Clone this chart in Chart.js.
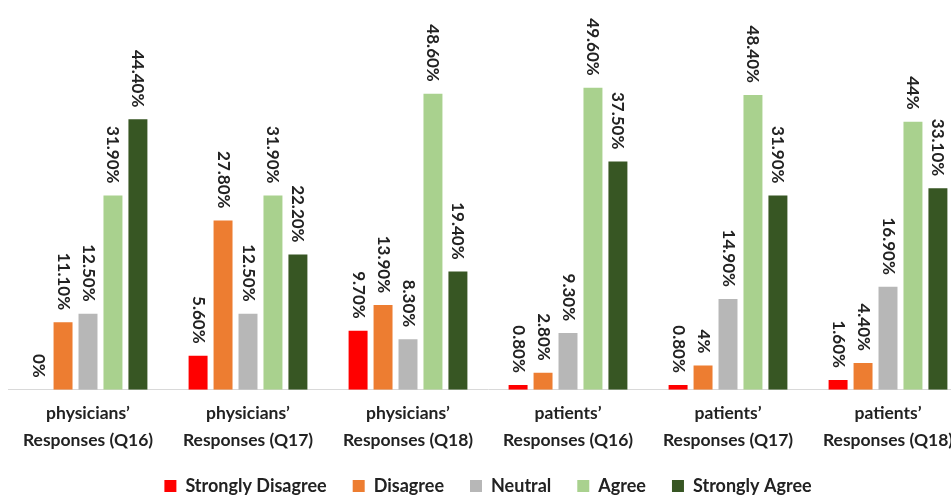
<!DOCTYPE html>
<html>
<head>
<meta charset="utf-8">
<script src="https://cdn.jsdelivr.net/npm/chart.js@4.4.0/dist/chart.umd.min.js"></script>
<style>
html,body{margin:0;padding:0;background:#fff;overflow:hidden;}
#wrap{width:984px;height:497px;}
</style>
</head>
<body>
<div id="wrap"><canvas id="c"></canvas></div>
<script>
const categories = [
  ["physicians’", "Responses (Q16)"],
  ["physicians’", "Responses (Q17)"],
  ["physicians’", "Responses (Q18)"],
  ["patients’", "Responses (Q16)"],
  ["patients’", "Responses (Q17)"],
  ["patients’", "Responses (Q18)"]
];
const seriesNames = ["Strongly Disagree", "Disagree", "Neutral", "Agree", "Strongly Agree"];
const stronglyDisagree = [0, 5.6, 9.7, 0.8, 0.8, 1.6];
const disagree = [11.1, 27.8, 13.9, 2.8, 4, 4.4];
const neutral = [12.5, 12.5, 8.3, 9.3, 14.9, 16.9];
const agree = [31.9, 31.9, 48.6, 49.6, 48.4, 44];
const stronglyAgree = [44.4, 22.2, 19.4, 37.5, 31.9, 33.1];
const colors = ["#FF0000", "#ED7D31", "#B7B7B7", "#A9D18E", "#375623"];

const FONT = "Lato, 'Open Sans', sans-serif";
function fmt(v){ return (Number.isInteger(v) ? v.toString() : v.toFixed(2)) + "%"; }

const labelPlugin = {
  id: 'vlabels',
  afterDatasetsDraw(chart){
    const ctx = chart.ctx;
    ctx.save();
    ctx.font = "bold 17px " + FONT;
    ctx.fillStyle = "#222";
    ctx.textAlign = "right";
    ctx.textBaseline = "middle";
    chart.data.datasets.forEach((ds, di) => {
      const meta = chart.getDatasetMeta(di);
      meta.data.forEach((bar, i) => {
        ctx.save();
        ctx.translate(bar.x, bar.y - 12);
        ctx.rotate(Math.PI / 2);
        ctx.fillText(fmt(ds.data[i]), 0, 0);
        ctx.restore();
      });
    });
    ctx.restore();
  }
};

const legendShift = {
  id: 'legendShift',
  afterLayout(chart){
    if (chart.legend) { chart.legend.top -= 5; }
  }
};

const seriesData = [stronglyDisagree, disagree, neutral, agree, stronglyAgree];
new Chart(document.getElementById('c'), {
  type: 'bar',
  data: {
    labels: categories,
    datasets: seriesData.map((d, k) => ({
      label: seriesNames[k],
      data: d,
      backgroundColor: colors[k],
      borderWidth: 0,
      categoryPercentage: 0.78,
      barPercentage: 0.76
    }))
  },
  options: {
    responsive: true,
    maintainAspectRatio: false,
    animation: false,
    layout: { padding: { left: 8, right: 16, top: 0, bottom: 0 } },
    plugins: {
      legend: {
        position: 'bottom',
        maxHeight: 41,
        labels: {
          boxWidth: 12, boxHeight: 12, padding: 26,
          color: "#222",
          font: { family: FONT, size: 18, weight: 'bold' }
        }
      },
      tooltip: { enabled: false }
    },
    scales: {
      x: {
        grid: { display: false },
        border: { display: true, color: "#D9D9D9", width: 1 },
        ticks: {
          color: "#222", padding: 2,
          font: { family: FONT, size: 17.5, weight: 'bold', lineHeight: 1.55 },
          maxRotation: 0, autoSkip: false
        }
      },
      y: {
        display: false,
        min: 0, max: 64
      }
    }
  },
  plugins: [labelPlugin, legendShift]
});
</script>
</body>
</html>
